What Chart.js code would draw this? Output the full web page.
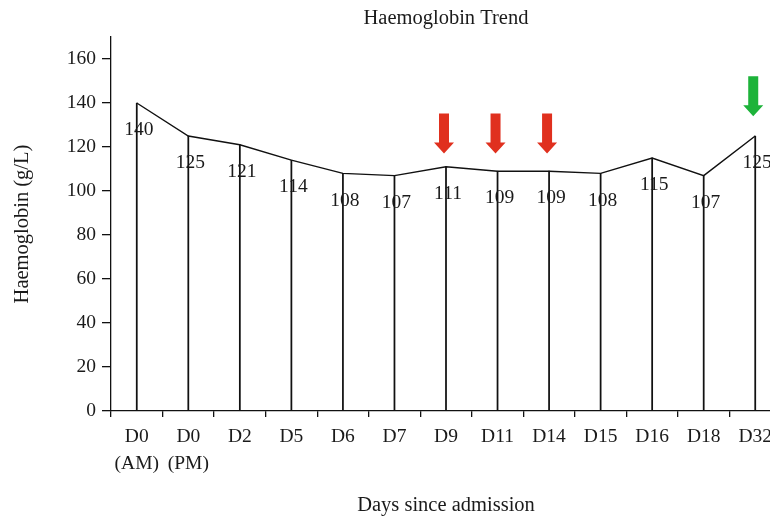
<!DOCTYPE html>
<html>
<head>
<meta charset="utf-8">
<script src="https://cdn.jsdelivr.net/npm/chart.js@4.4.0/dist/chart.umd.min.js"></script>
<style>
  body { margin: 0; overflow: hidden; background: #fff; }
</style>
</head>
<body>
<canvas id="grafico" width="800" height="519"></canvas>
<script>
// Datos
const dias = [['D0', '(AM)'], ['D0', '(PM)'], 'D2', 'D5', 'D6', 'D7', 'D9', 'D11', 'D14', 'D15', 'D16', 'D18', 'D32'];
const hemoglobina = [140, 125, 121, 114, 108, 107, 111, 109, 109, 108, 115, 107, 125];
const ticksY = [0, 20, 40, 60, 80, 100, 120, 140, 160];

// Flechas: índice de la categoría, valor donde está la punta, color
const flechasIdx = [6, 7, 8, 12];
const flechasValor = [117, 117, 117, 134];
const flechasColor = ['#e0301e', '#e0301e', '#e0301e', '#1db33a'];

const FUENTE = "'Liberation Serif', 'DejaVu Serif', serif";
const TEXTO = '#1a1a1a';

// Plugin para etiquetas de valores y flechas
const extras = {
  id: 'extras',
  afterDatasetsDraw(chart) {
    const ctx = chart.ctx;
    const meta = chart.getDatasetMeta(0);
    const y = chart.scales.y;
    ctx.save();
    ctx.font = '19.5px ' + FUENTE;
    ctx.fillStyle = TEXTO;
    ctx.textAlign = 'center';
    ctx.textBaseline = 'middle';
    meta.data.forEach((p, i) => {
      ctx.fillText(String(hemoglobina[i]), p.x + 2, p.y + 27);
    });

    flechasIdx.forEach((idx, k) => {
      const cx = meta.data[idx].x - 2;
      const tip = y.getPixelForValue(flechasValor[k]);
      ctx.fillStyle = flechasColor[k];
      ctx.beginPath();
      ctx.moveTo(cx - 5, tip - 40);
      ctx.lineTo(cx + 5, tip - 40);
      ctx.lineTo(cx + 5, tip - 11);
      ctx.lineTo(cx + 10, tip - 11);
      ctx.lineTo(cx, tip);
      ctx.lineTo(cx - 10, tip - 11);
      ctx.lineTo(cx - 5, tip - 11);
      ctx.closePath();
      ctx.fill();
    });
    ctx.restore();
  }
};

const ctx = document.getElementById('grafico').getContext('2d');

new Chart(ctx, {
  data: {
    labels: dias,
    datasets: [
      {
        type: 'line',
        data: hemoglobina,
        borderColor: '#111',
        borderWidth: 1.4,
        pointRadius: 0,
        tension: 0,
        fill: false,
        order: 0
      },
      {
        type: 'bar',
        data: hemoglobina,
        backgroundColor: '#111',
        barThickness: 1.1,
        order: 1
      }
    ]
  },
  options: {
    responsive: false,
    animation: false,
    layout: { padding: { left: 0, right: 19, top: 0, bottom: 0 } },
    plugins: {
      legend: { display: false },
      tooltip: { enabled: false },
      title: {
        display: true,
        text: 'Haemoglobin Trend',
        fullSize: false,
        color: TEXTO,
        font: { family: FUENTE, size: 20.5, weight: 'normal', lineHeight: 1.2 },
        padding: { top: 6, bottom: 6.4 }
      }
    },
    scales: {
      x: {
        offset: true,
        grid: { display: true, drawOnChartArea: false, offset: true, tickLength: 6, color: '#111', lineWidth: 1.3 },
        border: { display: true, color: '#111', width: 1.3 },
        ticks: { color: TEXTO, font: { family: FUENTE, size: 19.5, lineHeight: 1.4 }, padding: 6, maxRotation: 0, autoSkip: false },
        title: {
          display: true,
          text: 'Days since admission',
          color: TEXTO,
          font: { family: FUENTE, size: 20.5 },
          padding: { top: 0, bottom: 1 }
        },
        afterFit(scale) { scale.height = 108; }
      },
      y: {
        min: 0,
        max: 170,
        grid: { display: true, drawOnChartArea: false, tickLength: 9, color: '#111', lineWidth: 1.3 },
        border: { display: true, color: '#111', width: 1.3 },
        afterBuildTicks(scale) { scale.ticks = ticksY.map(v => ({ value: v })); },
        ticks: { color: TEXTO, font: { family: FUENTE, size: 19.5 }, padding: 6 },
        title: {
          display: true,
          text: 'Haemoglobin (g/L)',
          color: TEXTO,
          font: { family: FUENTE, size: 20.5 },
          padding: { top: 10, bottom: 0 }
        },
        afterFit(scale) { scale.width = 111; }
      }
    }
  },
  plugins: [extras]
});
</script>
</body>
</html>
